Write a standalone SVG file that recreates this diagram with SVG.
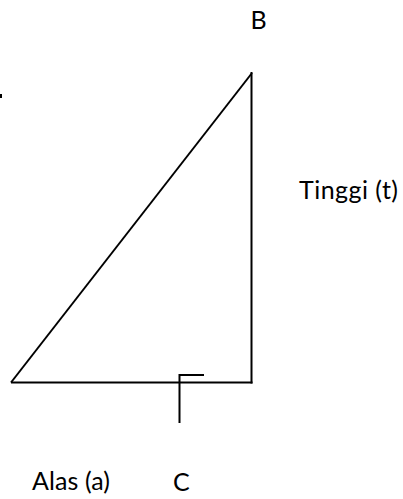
<svg xmlns="http://www.w3.org/2000/svg" width="403" height="499" viewBox="0 0 403 499">
  <style>
    .ln { stroke: #000; stroke-width: 2; fill: none; stroke-linecap: butt; }
    .lbl { font-family: Lato, "Liberation Sans", "DejaVu Sans", sans-serif; font-size: 25px; fill: #000; }
  </style>
  <rect x="0" y="0" width="403" height="499" fill="#fff"/>
  <g id="connectors">
    <line class="ln" x1="11" y1="382.5" x2="252" y2="73"/>
    <line class="ln" x1="251.5" y1="72" x2="251.5" y2="383.5"/>
    <line class="ln" x1="11" y1="382.5" x2="252.5" y2="382.5"/>
  </g>
  <g id="right-angle-mark">
    <polyline class="ln" points="204,375 179.5,375 179.5,423"/>
  </g>
  <g id="edge-mark">
    <rect x="0" y="94" width="2" height="4" fill="#000"/>
  </g>
  <g id="label-B"><text class="lbl" x="250.5" y="29">B</text></g>
  <g id="label-tinggi"><text class="lbl" x="299" y="199" textLength="99">Tinggi (t)</text></g>
  <g id="label-alas"><text class="lbl" x="32" y="490" textLength="78">Alas (a)</text></g>
  <g id="label-C"><text class="lbl" x="173" y="491">C</text></g>
</svg>
